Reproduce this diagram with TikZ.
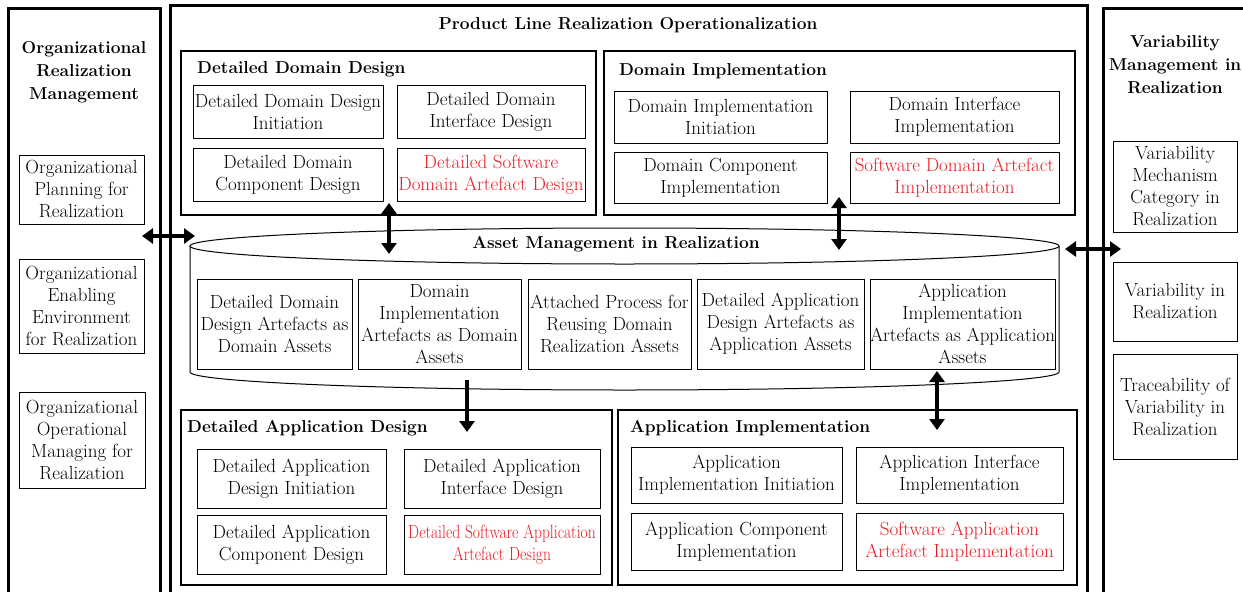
\documentclass[tikz,border=0pt]{standalone}
\usepackage{tikz}
\usetikzlibrary{arrows.meta}
\definecolor{redtxt}{RGB}{232,28,36}

\tikzset{
  panel/.style={line width=3pt},
  section/.style={line width=2pt},
  inbox/.style={draw, line width=1pt, align=center, inner sep=0pt, font=\fontsize{19}{22}\selectfont},
  title/.style={align=center, inner sep=0pt, font=\fontsize{17.3}{23}\selectfont\bfseries},
  dbl/.style={line width=3.5pt, {Triangle[length=11pt,width=15pt]}-{Triangle[length=11pt,width=15pt]}},
  sgl/.style={line width=3.5pt, -{Triangle[length=11pt,width=15pt]}}
}

\begin{document}
\begin{tikzpicture}[x=1pt,y=1pt,yscale=-1,xscale=1]
\useasboundingbox (0,0) rectangle (1243,592);

%Panels
\draw [panel] (8,600) -- (8,8) -- (160,8) -- (160,600);
\draw [panel] (170,600) -- (170,5) -- (1087,5) -- (1087,600);
\draw [panel] (1103,600) -- (1103,8) -- (1250,8);

%Left panel
\node [title] (orgtitle) at (84,72) {Organizational\\Realization\\Management};
\node [inbox, minimum width=125, minimum height=69] (orgplan) at (81.5,189.5) {Organizational\\Planning for\\Realization};
\node [inbox, minimum width=125, minimum height=94] (orgenv) at (81.5,306) {Organizational\\Enabling\\Environment\\for Realization};
\node [inbox, minimum width=126, minimum height=96] (orgop) at (82,440) {Organizational\\Operational\\Managing for\\Realization};

%Main title
\node [title] (maintitle) at (628,25) {Product Line Realization Operationalization};

%Detailed Domain Design
\draw [section] (181,51) rectangle (596,215);
\node [title, anchor=west] (ddtitle) at (197,69) {Detailed Domain Design};
\node [inbox, minimum width=190, minimum height=53] (ddi) at (288,111.5) {Detailed Domain Design\\Initiation};
\node [inbox, minimum width=188, minimum height=53] (ddif) at (491,111.5) {Detailed Domain\\Interface Design};
\node [inbox, minimum width=190, minimum height=53] (ddc) at (288,174.5) {Detailed Domain\\Component Design};
\node [inbox, minimum width=188, minimum height=53, text=redtxt] (dds) at (491,174.5) {Detailed Software\\Domain Artefact Design};

%Domain Implementation
\draw [section] (604,51) rectangle (1075,215);
\node [title, anchor=west] (dititle) at (619,71) {Domain Implementation};
\node [inbox, minimum width=213, minimum height=52] (dii) at (720.5,117) {Domain Implementation\\Initiation};
\node [inbox, minimum width=209, minimum height=52] (diif) at (954.5,117) {Domain Interface\\Implementation};
\node [inbox, minimum width=213, minimum height=51] (dic) at (720.5,177.5) {Domain Component\\Implementation};
\node [inbox, minimum width=209, minimum height=51, text=redtxt] (dis) at (954.5,177.5) {Software Domain Artefact\\Implementation};

%Asset repository
\draw [line width=1pt] (624.5,246) ellipse [x radius=434.5, y radius=18];
\draw [line width=1pt] (190,246) -- (190,372) arc [start angle=180, end angle=0, x radius=434.5, y radius=18] -- (1059,246);
\node [title] (amtitle) at (616,244) {Asset Management in Realization};
\node [inbox, minimum width=155, minimum height=90] (ast1) at (274.5,324) {Detailed Domain\\Design Artefacts as\\Domain Assets};
\node [inbox, minimum width=163, minimum height=90] (ast2) at (439.5,324) {Domain\\Implementation\\Artefacts as Domain\\Assets};
\node [inbox, minimum width=163, minimum height=90] (ast3) at (609.5,324) {Attached Process for\\Reusing Domain\\Realization Assets};
\node [inbox, minimum width=167, minimum height=90] (ast4) at (780.5,324) {Detailed Application\\Design Artefacts as\\Application Assets};
\node [inbox, minimum width=185, minimum height=90] (ast5) at (962.5,324) {Application\\Implementation\\Artefacts as Application\\Assets};

%Detailed Application Design
\draw [section] (181,410) rectangle (612,585);
\node [title, anchor=west] (adtitle) at (187,428) {Detailed Application Design};
\node [inbox, minimum width=189, minimum height=59] (adi) at (291.5,478.5) {Detailed Application\\Design Initiation};
\node [inbox, minimum width=196, minimum height=59] (adif) at (502,478.5) {Detailed Application\\Interface Design};
\node [inbox, minimum width=189, minimum height=59] (adc) at (291.5,544.5) {Detailed Application\\Component Design};
\node [inbox, minimum width=196, minimum height=59, text=redtxt] (ads) at (502,544.5) {\scalebox{0.82}[1]{Detailed Software Application}\\\scalebox{0.82}[1]{Artefact Design}};

%Application Implementation
\draw [section] (618,410) rectangle (1077,585);
\node [title, anchor=west] (aititle) at (630,428) {Application Implementation};
\node [inbox, minimum width=211, minimum height=56] (aii) at (736.5,475) {Application\\Implementation Initiation};
\node [inbox, minimum width=207, minimum height=56] (aiif) at (959.5,475) {Application Interface\\Implementation};
\node [inbox, minimum width=211, minimum height=57] (aic) at (736.5,541.5) {Application Component\\Implementation};
\node [inbox, minimum width=207, minimum height=57, text=redtxt] (ais) at (959.5,541.5) {Software Application\\Artefact Implementation};

%Right panel
\node [title] (vartitle) at (1175,65) {Variability\\Management in\\Realization};
\node [inbox, minimum width=124, minimum height=91] (varmech) at (1175,186.5) {Variability\\Mechanism\\Category in\\Realization};
\node [inbox, minimum width=124, minimum height=79] (varreal) at (1175,301.5) {Variability in\\Realization};
\node [inbox, minimum width=124, minimum height=105] (vartrace) at (1175,406.5) {Traceability of\\Variability in\\Realization};

%Arrow ends
\coordinate (orgend) at (142,236);
\coordinate (cylleft) at (195,236);
\coordinate (ddend) at (389,203);
\coordinate (cylddend) at (389,254);
\coordinate (diend) at (839,197);
\coordinate (cyldiend) at (839,250);
\coordinate (cylright) at (1065,249);
\coordinate (varend) at (1121,249);
\coordinate (cyladend) at (467,380);
\coordinate (adend) at (467,432);
\coordinate (cylaiend) at (937,371);
\coordinate (aiend) at (937,430);

%Arrows
\draw [dbl] (orgend) -- (cylleft);
\draw [dbl] (ddend) -- (cylddend);
\draw [dbl] (diend) -- (cyldiend);
\draw [dbl] (cylright) -- (varend);
\draw [sgl] (cyladend) -- (adend);
\draw [dbl] (cylaiend) -- (aiend);

\end{tikzpicture}
\end{document}
